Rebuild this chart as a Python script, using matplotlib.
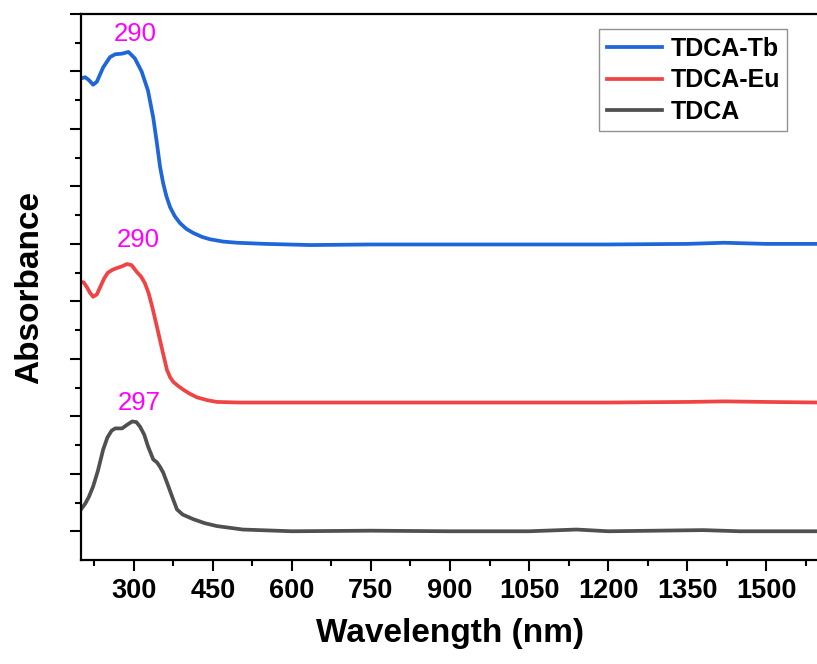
import numpy as np
import matplotlib
matplotlib.use('Agg')
import matplotlib.pyplot as plt

plt.rcParams['font.family'] = ['Liberation Sans', 'DejaVu Sans']

# TDCA-Tb (offset curve, top)
wl_tb = [200, 208, 215, 223, 230, 242, 255, 265, 278, 290, 302, 315, 327, 337, 344,
         350, 356, 362, 369, 378, 388, 400, 413, 430, 445, 470, 496, 550, 635, 750,
         900, 1050, 1200, 1350, 1420, 1500, 1600]
abs_tb = [7.88, 7.90, 7.85, 7.77, 7.82, 8.07, 8.25, 8.30, 8.31, 8.34, 8.23, 8.00, 7.67, 7.20, 6.75,
          6.34, 6.05, 5.83, 5.64, 5.48, 5.36, 5.26, 5.19, 5.12, 5.08, 5.04, 5.02, 5.00, 4.98, 4.99,
          4.99, 4.99, 4.99, 5.00, 5.02, 5.00, 5.00]

# TDCA-Eu (offset curve, middle)
wl_eu = [200, 205, 211, 217, 223, 230, 236, 244, 251, 260, 268, 278, 287, 296, 306, 314,
         321, 328, 335, 344, 354, 363, 369, 375, 384, 393, 405, 420, 440, 458, 500, 600,
         750, 900, 1050, 1200, 1350, 1420, 1500, 1600]
abs_eu = [4.34, 4.33, 4.25, 4.15, 4.08, 4.12, 4.24, 4.40, 4.50, 4.55, 4.58, 4.61, 4.65, 4.63, 4.51, 4.43,
          4.32, 4.15, 3.91, 3.56, 3.16, 2.81, 2.68, 2.60, 2.53, 2.47, 2.40, 2.33, 2.28, 2.25, 2.24, 2.24,
          2.24, 2.24, 2.24, 2.24, 2.25, 2.26, 2.25, 2.24]

# TDCA (bottom)
wl_tdca = [200, 208, 215, 223, 232, 242, 250, 258, 265, 272, 278, 287, 297, 305, 312, 320,
           327, 337, 344, 350, 356, 363, 369, 375, 382, 393, 413, 435, 458, 507, 600, 750,
           900, 1050, 1140, 1200, 1380, 1450, 1600]
abs_tdca = [0.38, 0.48, 0.60, 0.78, 1.05, 1.42, 1.63, 1.75, 1.79, 1.79, 1.79, 1.85, 1.91, 1.90, 1.82, 1.68,
            1.48, 1.25, 1.20, 1.12, 1.02, 0.85, 0.70, 0.55, 0.38, 0.29, 0.21, 0.14, 0.09, 0.03, 0.00, 0.01,
            0.00, 0.00, 0.03, 0.00, 0.02, 0.00, 0.00]

# peak labels: text, x, y
peak_labels = [('290', 302, 8.66), ('290', 308, 5.07), ('297', 310, 2.24)]

fig = plt.figure(figsize=(8.17, 6.64), dpi=100)
ax = fig.add_axes([81 / 817, 104 / 664, 738 / 817, 546 / 664])

ax.plot(wl_tb, abs_tb, color='#1f66d8', lw=2.7, label='TDCA-Tb')
ax.plot(wl_eu, abs_eu, color='#f04444', lw=2.7, label='TDCA-Eu')
ax.plot(wl_tdca, abs_tdca, color='#505050', lw=2.7, label='TDCA')

for txt, x, y in peak_labels:
    ax.text(x, y, txt, color='#ff00ff', fontsize=18.5, ha='center', va='center')

ax.set_xlim(200, 1600)
ax.set_ylim(-0.5, 9)
ax.set_xticks(np.arange(300, 1600, 150))
ax.set_xticks(np.arange(225, 1600, 150), minor=True)
ax.set_yticks(np.arange(0, 10, 1))
ax.set_yticks(np.arange(0.5, 9, 1), minor=True)
ax.set_yticklabels([])

ax.tick_params(which='major', direction='out', length=8, width=1.5, labelsize=19.5, pad=5)
ax.tick_params(which='minor', direction='out', length=4, width=1.5)
for lab in ax.get_xticklabels():
    lab.set_fontweight('bold')
for s in ax.spines.values():
    s.set_linewidth(1.6)

ax.set_xlabel('Wavelength (nm)', fontsize=24, fontweight='bold', labelpad=10)
ax.set_ylabel('Absorbance', fontsize=24, fontweight='bold', labelpad=13)

leg = ax.legend(loc='upper right', bbox_to_anchor=(0.957, 0.972), borderaxespad=0,
                prop={'weight': 'bold', 'size': 18}, frameon=True, fancybox=False,
                handlelength=2.2, handletextpad=0.35, borderpad=0.3, labelspacing=0.3)
leg.get_frame().set_edgecolor('#777777')
leg.get_frame().set_linewidth(1.0)

fig.savefig('out.png', dpi=100)
